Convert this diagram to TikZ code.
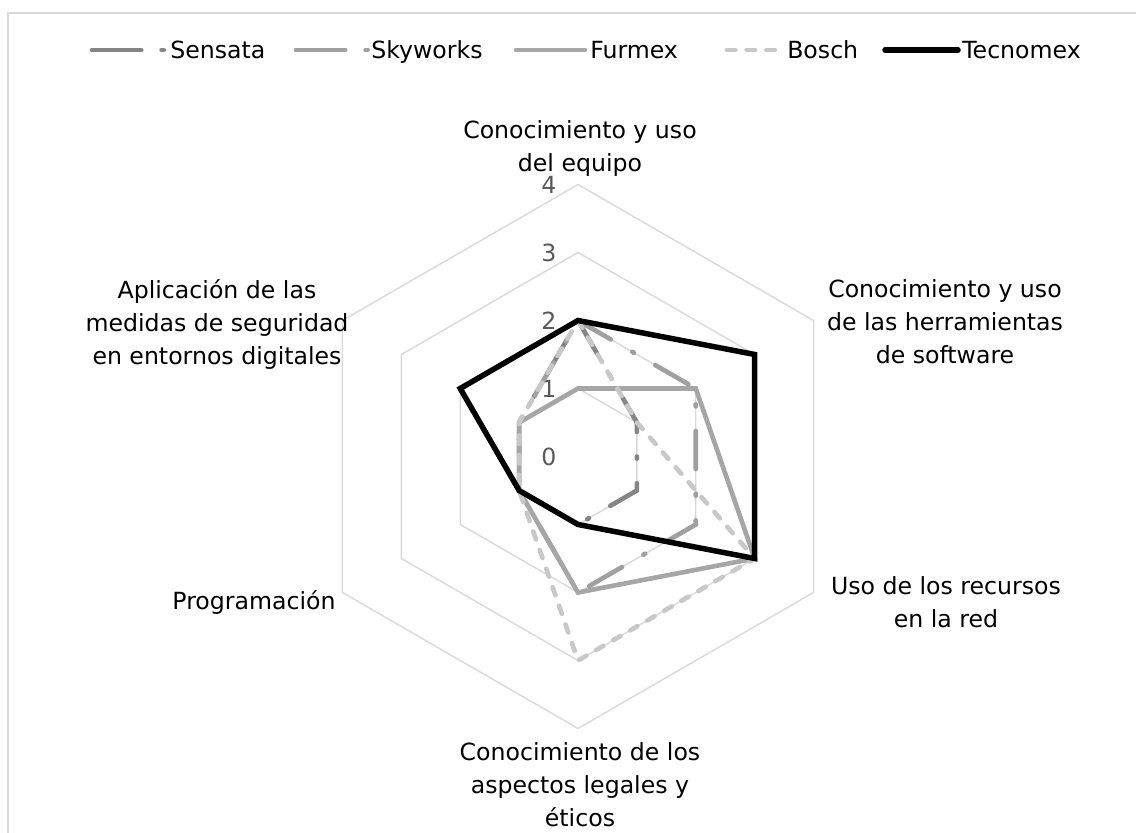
\documentclass[tikz,border=0pt]{standalone}
\usepackage{fontspec}
\setmainfont{DejaVu Sans}
\definecolor{cRahmen}{HTML}{D9D9D9}
\definecolor{cSensata}{HTML}{858585}
\definecolor{cSkyworks}{HTML}{A0A0A0}
\definecolor{cFurmex}{HTML}{A6A6A6}
\definecolor{cBosch}{HTML}{C8C8C8}
\definecolor{cWert}{HTML}{595959}
\tikzset{
  netz/.style={draw=cRahmen, line width=1pt},
  wert/.style={text=cWert, inner sep=0pt},
  leg/.style={anchor=west, inner sep=0pt, text height=12.2pt, text depth=0pt},
  achsname/.style={align=center, inner sep=0pt},
  strichpunkt/.style={line width=3.3pt, line cap=round, dash pattern=on 27pt off 17.5pt on 1.5pt off 17.5pt},
  sensata/.style={strichpunkt, draw=cSensata},
  skyworks/.style={strichpunkt, draw=cSkyworks},
  furmex/.style={line width=3.3pt, draw=cFurmex, line cap=round},
  bosch/.style={line width=3.3pt, draw=cBosch, line cap=round, dash pattern=on 6pt off 8pt},
  tecnomex/.style={line width=3.9pt, draw=black, line cap=round}
}
\begin{document}
\begin{tikzpicture}[font=\fontsize{16.8}{23.5}\selectfont]
  \useasboundingbox (0,0) rectangle (28.4,20.825);
  % Rahmen
  \draw[cRahmen, line width=1pt] (0.2,0) -- (0.2,20.5) -- (28.4,20.5);
  % Legende
  \draw[sensata, dash pattern=on 35pt off 14.5pt on 1.5pt off 15pt] (2.3,19.575) -- (4.25,19.575);
  \node[leg] (lsensata) at (4.25,19.575) {Sensata};
  \draw[skyworks, dash pattern=on 35pt off 14.5pt on 1.5pt off 15pt] (7.4,19.575) -- (9.275,19.575);
  \node[leg] (lskyworks) at (9.275,19.575) {Skyworks};
  \draw[furmex] (12.9,19.575) -- (14.62,19.575);
  \node[leg] (lfurmex) at (14.75,19.575) {Furmex};
  \draw[bosch] (18.175,19.575) -- (19.375,19.575);
  \node[leg] (lbosch) at (19.675,19.575) {Bosch};
  \draw[tecnomex] (22.125,19.575) -- (23.95,19.575);
  \node[leg] (ltecnomex) at (24.05,19.575) {Tecnomex};
  % Netz und Daten
  \begin{scope}[shift={(14.45,9.4125)}, x=1.7cm, y=1.7cm]
    \foreach \r in {1,...,4}
      \draw[netz] (90:\r) -- (30:\r) -- (-30:\r) -- (-90:\r) -- (-150:\r) -- (150:\r) -- cycle;
    \foreach \r in {0,...,4}
      \node[wert, xshift=-0.725cm] (w\r) at (90:\r) {\r};
    \draw[sensata]  (90:2) -- (30:1) -- (-30:1) -- (-90:1) -- (-150:1) -- (150:1) -- cycle;
    \draw[skyworks] (90:2) -- (30:2) -- (-30:2) -- (-90:2) -- (-150:1) -- (150:1) -- cycle;
    \draw[furmex]   (90:1) -- (30:2) -- (-30:3) -- (-90:2) -- (-150:1) -- (150:1) -- cycle;
    \draw[bosch]    (90:2) -- (30:1) -- (-30:3) -- (-90:3) -- (-150:1) -- (150:1) -- cycle;
    \draw[tecnomex] (90:2) -- (30:3) -- (-30:3) -- (-90:1) -- (-150:1) -- (150:2) -- cycle;
  \end{scope}
  % Achsen
  \node[achsname] (equipo) at (14.5,17.11) {Conocimiento y uso\\del equipo};
  \node[achsname] (software) at (23.625,12.78) {Conocimiento y uso\\de las herramientas\\de software};
  \node[achsname] (red) at (23.65,5.76) {Uso de los recursos\\en la red};
  \node[achsname] (etica) at (14.5,1.2) {Conocimiento de los\\aspectos legales y\\éticos};
  \node[achsname] (progr) at (6.35,5.75) {Programación};
  \node[achsname] (seguridad) at (5.425,12.72) {Aplicación de las\\medidas de seguridad\\en entornos digitales};
\end{tikzpicture}
\end{document}
